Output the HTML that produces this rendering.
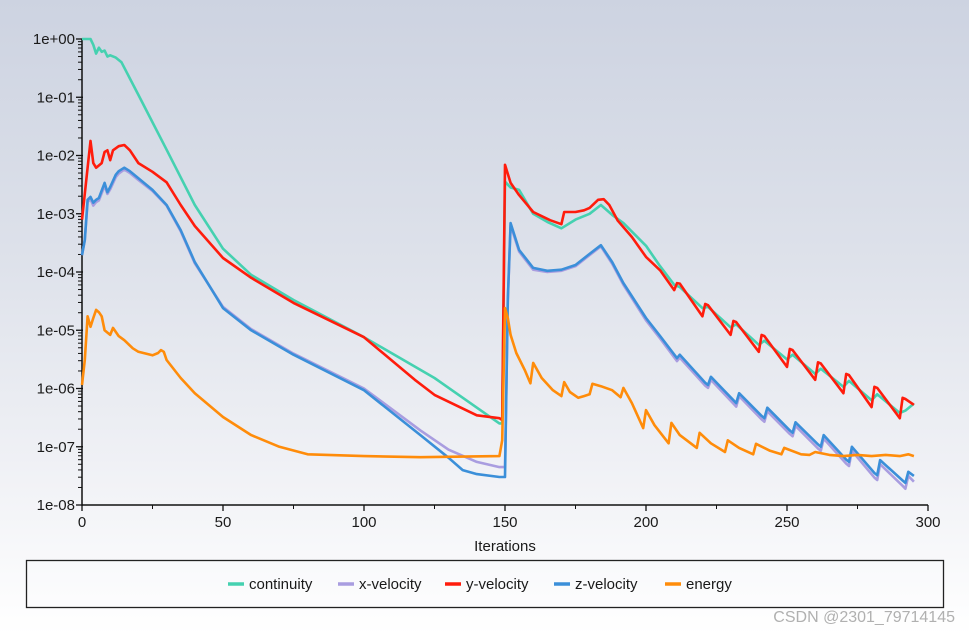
<!DOCTYPE html>
<html><head><meta charset="utf-8"><style>
html,body{margin:0;padding:0}
body{width:969px;height:635px;overflow:hidden;background:linear-gradient(#cdd3e1 0px,#dde1ea 250px,#f1f2f6 480px,#ffffff 635px);font-family:"Liberation Sans",sans-serif;position:relative}
svg{position:absolute;left:0;top:0}
.tk{font-size:15px;fill:#1a1a1a}
</style></head><body>
<svg id="chart" width="969" height="635" viewBox="0 0 969 635"></svg>
<script>
// data: exponents (log10 of residual)
const contIt=[0,3,4,5,6,7,8,9,10,12,14,20,30,40,50,60,75,100,125,148,149,150,152,155,160,165,170,175,180,184,188,192,200,205,210,212,220,222,230,232,240,242,250,252,260,262,270,272,280,282,290,292,295];
const contV=[0,0,-0.1,-0.25,-0.15,-0.22,-0.2,-0.3,-0.28,-0.32,-0.4,-0.96,-1.9,-2.85,-3.6,-4.05,-4.48,-5.12,-5.82,-6.6,-6.6,-2.45,-2.55,-2.59,-3.0,-3.14,-3.25,-3.1,-3.0,-2.85,-3.02,-3.16,-3.55,-3.9,-4.22,-4.26,-4.62,-4.6,-4.95,-4.9,-5.25,-5.18,-5.5,-5.42,-5.75,-5.66,-5.97,-5.87,-6.2,-6.1,-6.42,-6.38,-6.26];
const yvelIt=[0,3,4,5,7,8,9,10,11,13,15,17,20,25,30,35,40,50,60,75,100,118,125,140,148,149,150,152,155,160,166,170,171,175,178,180,183,185,187,190,195,200,205,210,211,212,220,221,222,230,231,232,240,241,242,250,251,252,260,261,262,270,271,272,280,281,282,290,291,292,295];
const yvelV=[-3.1,-1.75,-2.13,-2.21,-2.13,-1.94,-1.91,-2.08,-1.91,-1.84,-1.82,-1.91,-2.13,-2.28,-2.46,-2.85,-3.21,-3.76,-4.1,-4.53,-5.12,-5.85,-6.11,-6.46,-6.51,-6.54,-2.16,-2.47,-2.68,-2.97,-3.11,-3.18,-2.97,-2.97,-2.94,-2.9,-2.76,-2.75,-2.85,-3.12,-3.4,-3.74,-3.97,-4.31,-4.19,-4.2,-4.76,-4.55,-4.57,-5.08,-4.84,-4.86,-5.37,-5.08,-5.1,-5.63,-5.32,-5.34,-5.85,-5.55,-5.57,-6.08,-5.75,-5.77,-6.32,-5.97,-5.99,-6.51,-6.16,-6.18,-6.28];
const zvelIt=[0,1,2,3,4,5,6,8,9,10,12,13,15,17,20,25,30,35,40,50,60,75,100,120,130,135,140,148,150,151,152,155,160,165,170,175,180,184,188,192,200,205,211,212,221,222,223,231,232,233,241,242,243,251,252,253,261,262,263,271,272,273,281,282,283,291,292,293,295];
const zvelV=[-3.71,-3.45,-2.76,-2.71,-2.81,-2.76,-2.73,-2.47,-2.63,-2.54,-2.33,-2.27,-2.21,-2.27,-2.39,-2.59,-2.85,-3.28,-3.83,-4.62,-5.0,-5.42,-6.03,-6.8,-7.19,-7.4,-7.47,-7.52,-7.52,-4.48,-3.16,-3.62,-3.93,-3.98,-3.96,-3.88,-3.69,-3.54,-3.83,-4.19,-4.79,-5.1,-5.48,-5.42,-5.9,-5.94,-5.8,-6.2,-6.25,-6.08,-6.47,-6.51,-6.33,-6.72,-6.76,-6.58,-6.96,-7.0,-6.8,-7.22,-7.26,-7.0,-7.45,-7.49,-7.23,-7.58,-7.62,-7.43,-7.5];
const xvelIt=[0,1,2,3,4,5,6,8,9,10,12,13,15,17,20,25,30,35,40,50,60,75,100,120,130,140,148,150,151,152,155,160,165,170,175,180,184,188,192,200,205,211,212,221,222,223,231,232,233,241,242,243,251,252,253,261,262,263,271,272,273,281,282,283,291,292,293,295];
const xvelV=[-3.71,-3.45,-2.8,-2.75,-2.86,-2.8,-2.77,-2.52,-2.66,-2.58,-2.37,-2.31,-2.24,-2.3,-2.42,-2.61,-2.86,-3.3,-3.85,-4.6,-4.98,-5.4,-6.0,-6.72,-7.05,-7.26,-7.35,-7.35,-4.5,-3.2,-3.65,-3.96,-4.0,-3.98,-3.9,-3.71,-3.56,-3.86,-4.22,-4.83,-5.14,-5.53,-5.47,-5.95,-5.99,-5.85,-6.26,-6.31,-6.13,-6.53,-6.57,-6.39,-6.78,-6.82,-6.64,-7.03,-7.07,-6.86,-7.29,-7.33,-7.07,-7.53,-7.57,-7.3,-7.67,-7.72,-7.5,-7.6];
const enerIt=[0,1,2,3,4,5,6,7,8,10,11,13,15,18,20,25,27,28,29,30,35,40,50,60,70,80,100,120,148,149,150,151,152,154,157,159,160,163,167,170,171,173,176,178,180,181,184,188,191,192,195,199,200,203,208,209,212,218,219,223,228,229,233,238,239,244,248,249,255,258,260,265,270,275,280,285,290,293,295];
const enerV=[-5.94,-5.51,-4.76,-4.94,-4.79,-4.65,-4.69,-4.76,-5.0,-5.08,-4.96,-5.1,-5.17,-5.31,-5.37,-5.43,-5.39,-5.34,-5.37,-5.51,-5.82,-6.08,-6.49,-6.8,-7.0,-7.13,-7.16,-7.18,-7.16,-6.89,-4.62,-4.79,-5.08,-5.39,-5.68,-5.91,-5.56,-5.82,-6.03,-6.13,-5.89,-6.06,-6.16,-6.13,-6.1,-5.92,-5.96,-6.03,-6.15,-5.99,-6.25,-6.68,-6.37,-6.63,-6.94,-6.59,-6.8,-7.02,-6.76,-6.94,-7.09,-6.89,-7.02,-7.13,-6.95,-7.07,-7.13,-7.02,-7.13,-7.14,-7.09,-7.14,-7.16,-7.14,-7.16,-7.14,-7.16,-7.13,-7.16];
const yTickExp=[0,-1,-2,-3,-4,-5,-6,-7,-8];
const yTickLabels=["1e+00","1e-01","1e-02","1e-03","1e-04","1e-05","1e-06","1e-07","1e-08"];
const xTicks=[0,50,100,150,200,250,300];
const xMinor=[25,75,125,175,225,275];

const NS="http://www.w3.org/2000/svg";
const svg=document.getElementById('chart');
const X0=82,X1=928,Y0=39,Y1=505;
function sx(v){return X0+(v-0)/(300-0)*(X1-X0);}
function sy(e){return Y0+(0-e)/8*(Y1-Y0);}
function mk(tag,attrs){const el=document.createElementNS(NS,tag);for(const k in attrs)el.setAttribute(k,attrs[k]);svg.appendChild(el);return el;}

let ax=mk('path',{d:`M${X0} ${Y0}V${Y1}H${X1}`,stroke:'#111',fill:'none','stroke-width':1.5});


yTickExp.forEach((e,i)=>{
  const t=mk('line',{x1:X0-6,x2:X0+1,y1:sy(e),y2:sy(e),stroke:'#111','stroke-width':1.3});
  
  
  const l=mk('text',{x:X0-7,y:sy(e)+5,'text-anchor':'end',class:'tk'});l.textContent=yTickLabels[i];
  
  
  if(i<yTickExp.length-1){for(let m=2;m<10;m++){const yy=sy(e-1+Math.log10(m));
    const mt=mk('line',{x1:X0-4,x2:X0,y1:yy,y2:yy,stroke:'#111','stroke-width':1});
    
    }}
});
xTicks.forEach(v=>{
  const t=mk('line',{x1:sx(v),x2:sx(v),y1:Y1,y2:Y1+6,stroke:'#111','stroke-width':1.3});
  
  
  const l=mk('text',{x:sx(v),y:Y1+22,'text-anchor':'middle',class:'tk'});l.textContent=v;
  
  
});
xMinor.forEach(v=>{const t=mk('line',{x1:sx(v),x2:sx(v),y1:Y1,y2:Y1+4,stroke:'#111','stroke-width':1});
  
  });
const xt=mk('text',{x:505,y:551,'text-anchor':'middle',class:'tk'});xt.textContent='Iterations';



function series(it,v,color,name){
  const p=mk('polyline',{points:it.map((x,i)=>sx(x).toFixed(1)+','+sy(v[i]).toFixed(1)).join(' '),fill:'none',stroke:color,'stroke-width':2.6,'stroke-linejoin':'round'});
  
  
}
series(contIt,contV,'#45d1b0','continuity-line');
series(xvelIt,xvelV,'#a99de0','x-velocity-line');
series(yvelIt,yvelV,'#ff1c0c','y-velocity-line');
series(zvelIt,zvelV,'#3b8fd9','z-velocity-line');
series(enerIt,enerV,'#ff8c0a','energy-line');

const lb=mk('rect',{x:26.5,y:560.5,width:917,height:47,fill:'none',stroke:'#222','stroke-width':1.3});


const legNames=['continuity','x-velocity','y-velocity','z-velocity','energy'];
const legColors=['#45d1b0','#a99de0','#ff1c0c','#3b8fd9','#ff8c0a'];
const legX=[228,338,445,554,665];
legNames.forEach((n,i)=>{
  const s=mk('line',{x1:legX[i],x2:legX[i]+16,y1:584,y2:584,stroke:legColors[i],'stroke-width':3.5});
  
  
  const t=mk('text',{x:legX[i]+21,y:589,class:'tk'});t.textContent=n;
  
  
});
const wm=mk('text',{x:955,y:622,'text-anchor':'end','font-size':'16px',fill:'#b0b0b0'});wm.textContent='CSDN @2301_79714145';


</script>
</body></html>
